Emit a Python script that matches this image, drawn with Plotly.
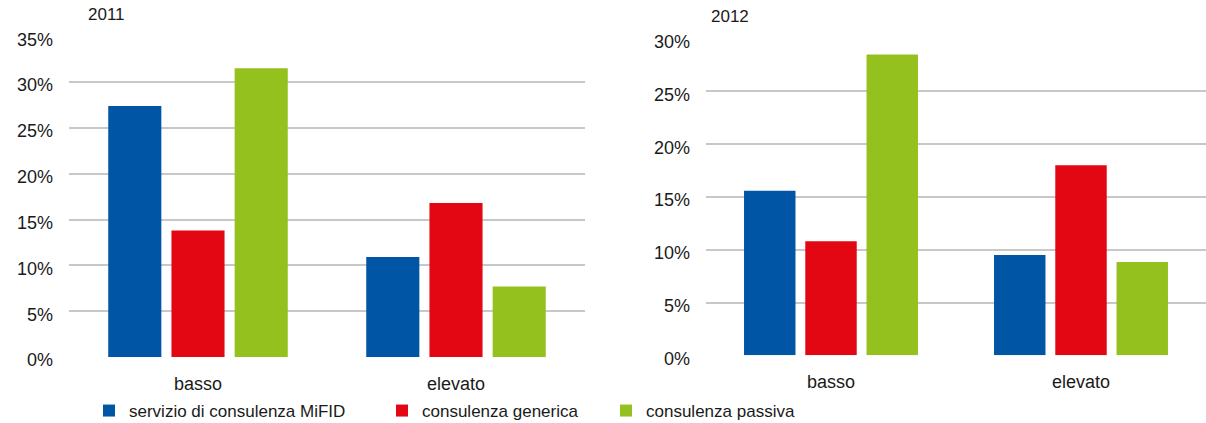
import plotly.graph_objects as go

categories = ["basso", "elevato"]
series_names = ["servizio di consulenza MiFID", "consulenza generica", "consulenza passiva"]
colors = ["#0055a4", "#e30613", "#95c11f"]

values_2011 = {
    "servizio di consulenza MiFID": [27.4, 10.9],
    "consulenza generica": [13.8, 16.8],
    "consulenza passiva": [31.5, 7.7],
}
values_2012 = {
    "servizio di consulenza MiFID": [15.6, 9.5],
    "consulenza generica": [10.8, 18.0],
    "consulenza passiva": [28.5, 8.85],
}
ticks_2011 = [0, 5, 10, 15, 20, 25, 30, 35]
ticks_2012 = [0, 5, 10, 15, 20, 25, 30]
tick_labels_2011 = [f"{v}%" for v in ticks_2011]
tick_labels_2012 = [f"{v}%" for v in ticks_2012]

W, H = 1206, 423
FONT = "Liberation Sans, Arial, sans-serif"
TXT = "#1a1a1a"
legend_names = ["legend", "legend2", "legend3"]
legend_x_px = [89, 382, 606]

fig = go.Figure()
for name, col, lg in zip(series_names, colors, legend_names):
    fig.add_trace(go.Bar(x=categories, y=values_2011[name], name=name, marker_color=col,
                         marker_line_width=0, xaxis="x", yaxis="y", legendgroup=name,
                         legend=lg))
    fig.add_trace(go.Bar(x=categories, y=values_2012[name], name=name, marker_color=col,
                         marker_line_width=0, xaxis="x2", yaxis="y2", legendgroup=name,
                         legend=lg, showlegend=False))

def py(px):
    return 1 - px / H

grid = dict(showgrid=True, gridcolor="#c8c8c8", gridwidth=1.5, zeroline=False,
            showline=False, ticks="", tickfont=dict(family=FONT, size=18, color=TXT),
            ticklabelstandoff=15, ticklabelshift=3, fixedrange=True)
xax = dict(showgrid=False, showline=False, ticks="", ticklabelstandoff=14,
           tickfont=dict(family=FONT, size=18, color=TXT), fixedrange=True)

legend_common = dict(orientation="h", yanchor="middle", xanchor="left", y=py(411),
                     font=dict(family=FONT, size=17, color=TXT),
                     bgcolor="rgba(0,0,0,0)", itemwidth=30)

layout_legends = {}
for lg, xp in zip(legend_names, legend_x_px):
    layout_legends[lg] = dict(x=xp / W, **legend_common)

fig.update_layout(
    width=W, height=H,
    margin=dict(l=0, r=0, t=0, b=0, pad=0, autoexpand=False),
    paper_bgcolor="white", plot_bgcolor="white",
    barmode="group", bargap=0.265, bargroupgap=0.16,
    font=dict(family=FONT, size=16, color=TXT),
    xaxis=dict(domain=[69 / W, 585 / W], anchor="y", **xax),
    xaxis2=dict(domain=[706 / W, 1206 / W], anchor="y2", **xax),
    yaxis=dict(domain=[py(357), py(36.3)], range=[0, 35], tickvals=ticks_2011,
               ticktext=tick_labels_2011, anchor="x", **grid),
    yaxis2=dict(domain=[py(355.3), py(38.7)], range=[0, 30], tickvals=ticks_2012,
                ticktext=tick_labels_2012, anchor="x2", **grid),
    showlegend=True,
    annotations=[
        dict(text="2011", x=86 / W, y=py(14), xref="paper", yref="paper",
             xanchor="left", yanchor="middle", showarrow=False,
             font=dict(family=FONT, size=17, color=TXT)),
        dict(text="2012", x=709 / W, y=py(16), xref="paper", yref="paper",
             xanchor="left", yanchor="middle", showarrow=False,
             font=dict(family=FONT, size=17, color=TXT)),
    ],
    **layout_legends,
)

fig.write_html("out.html")
